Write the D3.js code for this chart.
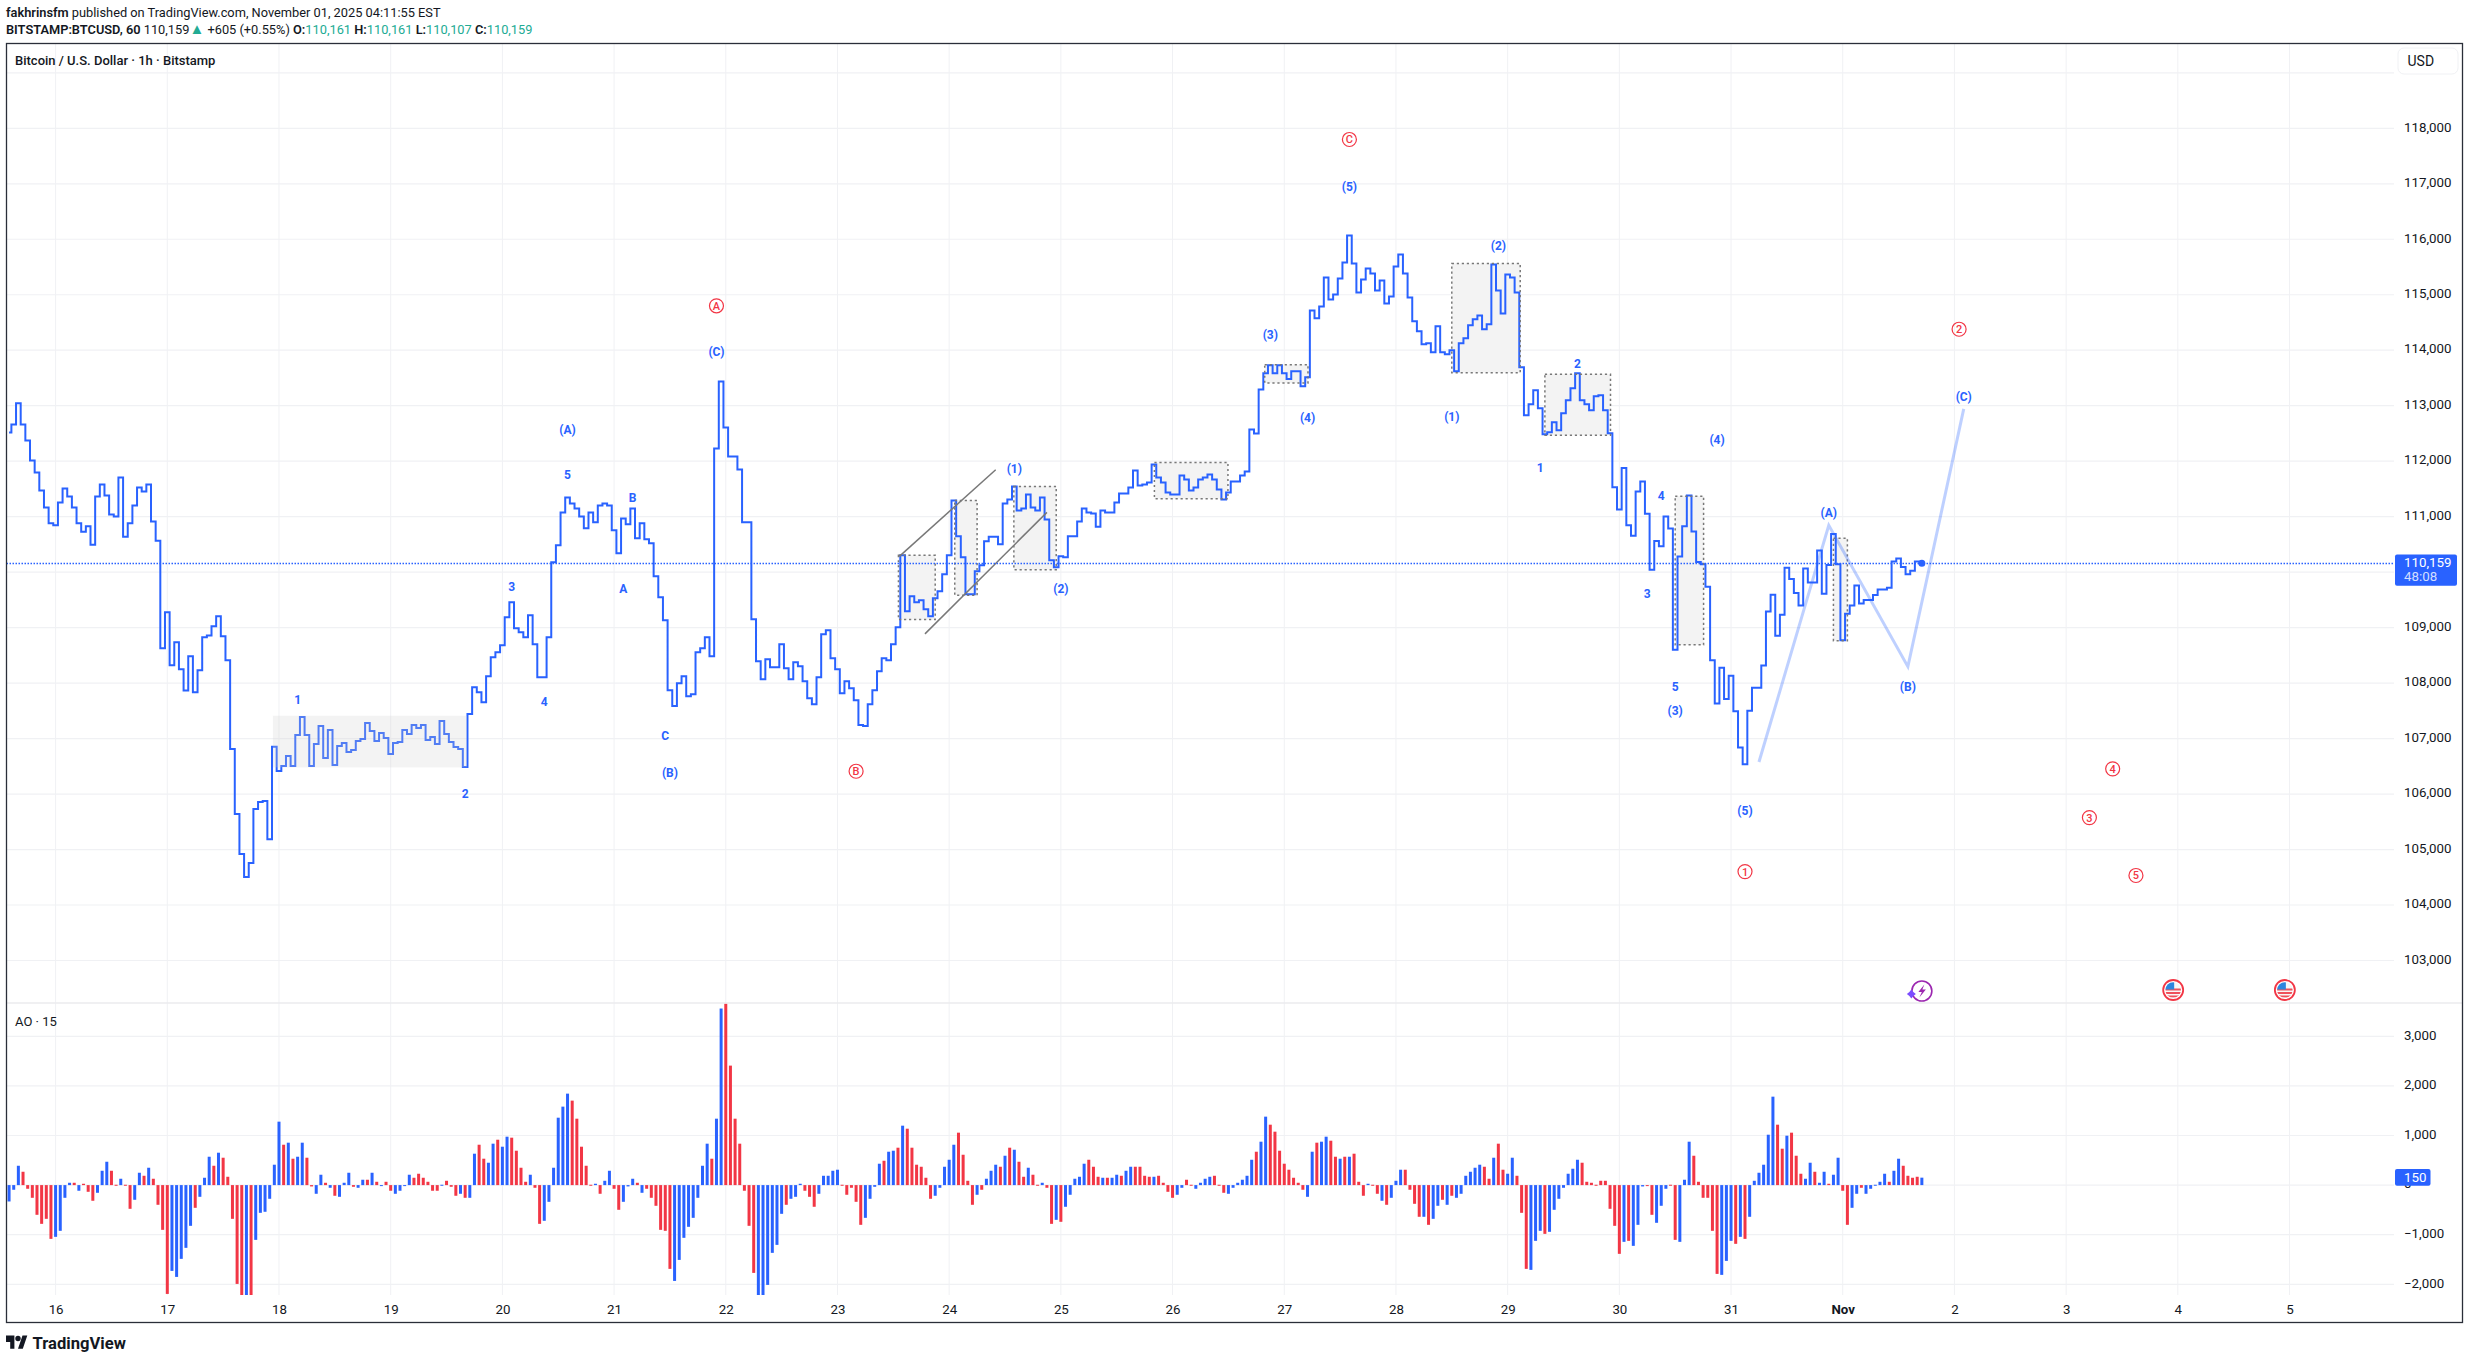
<!DOCTYPE html>
<html>
<head>
<meta charset="utf-8">
<title>BTCUSD</title>
<script src="https://cdn.jsdelivr.net/npm/d3@7"></script>
<style>
  body { margin: 0; background: #fff; }
  text { font-family: Roboto, sans-serif; fill: #131722; }
</style>
</head>
<body>
<svg id="chart" width="2469" height="1360"></svg>
<script>
// hour 0 = Oct 16 00:00, one value per hour
const firstHour = -10;

const closes = [
  112517,112661,113045,112661,112373,112013,111797,111473,111167,110879,
  110843,111257,111509,111365,111167,110879,110729,110825,110495,111365,
  111581,111383,111041,111005,111707,110639,110879,111203,111527,111455,
  111581,110915,110567,108629,109277,108323,108737,108251,107867,108485,
  107837,108233,108827,108857,109025,109205,108845,108413,106811,105641,
  104921,104507,104759,105731,105857,105875,105185,106853,106415,106505,
  106685,106505,107063,107387,107063,106505,106901,107225,106649,107153,
  106523,106865,106919,106757,106793,106955,106991,107279,107135,106955,
  107099,107009,106721,106919,106937,107153,107081,107243,107189,107243,
  106973,107027,106901,107315,107081,106937,106847,106811,106487,107441,
  107927,107837,107657,108125,108467,108557,108683,109187,109457,108989,
  108917,108827,109223,108701,108107,108107,108827,110177,110483,111077,
  111347,111239,111149,111005,110789,111077,110897,111203,111239,111203,
  110753,110339,110969,110861,111149,110609,110879,110591,110519,109925,
  109547,109133,107873,107585,107999,108125,107765,107801,108557,108629,
  108827,108485,112229,113435,112607,112085,112085,111851,110897,110897,
  109151,108395,108071,108431,108287,108287,108701,108269,108071,108377,
  108305,108035,107729,107621,108107,108881,108953,108449,108251,107819,
  108035,107909,107693,107243,107225,107621,107873,108215,108449,108413,
  108701,109007,110303,109295,109565,109457,109493,109331,109205,109529,
  109655,109961,110303,111293,110645,110267,109601,109601,110015,110123,
  110555,110639,110639,110501,111239,111311,111545,111113,111149,111401,
  111167,111113,111347,110951,110213,110087,110285,110267,110645,110645,
  110915,111149,111077,111059,110819,111113,111077,111077,111257,111419,
  111419,111527,111833,111563,111581,111617,111941,111707,111617,111437,
  111401,111401,111743,111671,111473,111527,111671,111707,111761,111671,
  111491,111311,111437,111635,111635,111743,111815,112571,112499,
  113290,113584,113728,113584,113728,113584,113482,113620,113620,113350,
  113512,114718,114574,114790,115312,114916,115006,115294,115582,116068,
  115564,115042,115276,115474,115384,115078,115258,114844,114970,115510,
  115726,115384,114952,114520,114340,114106,114124,113962,114430,113962,
  113926,113998,113620,114124,114214,114448,114556,114628,114376,114466,
  115546,115078,114664,115366,115312,115042,113692,112828,113026,113278,
  112954,112486,112522,112702,112558,112864,113098,113314,113584,113098,
  113026,112918,113170,113188,112918,112504,
  111528,111129,111875,110845,110655,111452,111635,111053,110042,110560,
  110465,111003,110788,108600,110282,110826,111382,110731,110181,110143,
  109738,108411,107633,108278,107715,108133,107494,106837,106539,107500,
  107918,107918,108316,109290,109593,108853,109233,110080,109877,109625,
  109397,110067,109814,109814,110390,109612,110130,110687,110143,108771,
  109252,109397,109757,109435,109498,109498,109587,109688,109688,109719,
  110194,110244,110092,109960,110023,110194,110159
];

const aoValues = [
  -330,-94,390,269,-74,-256,-599,-781,-680,-1084,
  -1043,-922,-256,47,47,-114,27,-135,-316,-155,
  289,471,289,7,128,7,-478,-296,249,188,
  350,128,-397,-902,-2194,-1730,-1851,-1487,-1265,-821,
  -458,-236,148,572,390,653,552,168,-680,-1992,
  -2300,-2400,-2300,-1104,-559,-538,-276,411,1279,814,
  855,532,572,855,552,-27,-175,209,47,-54,
  -215,-236,47,249,-34,-54,108,108,249,67,
  -7,67,-114,-175,-114,-7,209,148,229,148,
  67,-114,-114,7,87,-34,-215,-175,-256,-256,
  633,814,532,451,835,915,774,976,956,693,
  350,67,209,-54,-781,-720,-337,350,1359,1582,
  1844,1703,1339,774,390,7,27,-175,87,289,
  -74,-498,-337,-27,128,47,-155,-74,-256,-417,
  -902,-922,-1689,-1932,-1508,-1063,-841,-660,-256,390,
  835,532,1339,3560,3661,2409,1339,835,-114,-821,
  -1770,-2400,-2300,-2012,-1366,-1205,-579,-397,-276,-236,
  27,-114,-236,-437,-175,188,188,289,310,7,
  -195,-54,-337,-801,-660,-276,-34,431,491,673,
  693,754,1198,1137,754,411,370,148,-276,-215,
  -54,370,511,814,1057,612,87,-397,-195,-94,
  128,289,411,370,592,754,713,471,168,350,
  209,7,47,-54,-781,-700,-740,-437,-195,128,
  168,431,511,370,168,148,148,148,209,188,
  289,370,370,370,188,168,168,188,47,-135,
  -256,-195,-54,108,7,-74,47,128,168,188,
  7,-155,-175,-54,47,108,188,511,673,875,
  1380,1218,1077,693,431,310,148,47,-94,-236,
  673,855,875,976,895,572,532,572,572,633,
  67,-215,27,7,-175,-316,-397,-256,87,310,
  310,-94,-377,-639,-639,-801,-680,-417,-296,-397,
  -215,-256,-175,188,269,350,411,370,128,552,
  835,310,229,552,188,-559,-1689,-1709,-1124,-922,
  -983,-942,-498,-276,-54,229,330,511,451,67,
  47,7,87,87,-478,-821,-1386,-1144,-1124,-1225,
  -801,-27,-13,-599,-760,-417,-74,7,-1104,-1144,
  108,875,592,67,-256,-256,-922,-1790,-1810,-1528,
  -1124,-1184,-1043,-1084,-639,87,249,411,1016,1783,
  1218,734,996,1057,592,229,128,451,269,47,
  269,27,209,552,-114,-801,-458,-175,-54,-175,
  -74,7,67,229,67,289,532,390,188,148,
  168,150
];

// 1 = growing bar, 0 = falling bar
const aoRising = [
  1,1,1,0,0,0,0,0,0,0, 1,1,1,1,0,1,0,0,0,1, 1,1,0,0,1,0,0,1,1,0, 1,0,0,0,0,1,1,1,1,1,
  0,1,1,1,0,1,0,0,0,0, 0,1,0,1,1,1,1,1,1,0, 1,0,1,1,0,0,1,1,0,1, 0,1,1,1,0,1,1,0,1,0,
  1,0,0,1,1,1,1,0,0,0, 0,0,0,1,0,0,0,1,0,1, 1,0,0,1,1,0,1,1,0,0, 0,0,1,0,0,1,1,1,1,1,
  1,0,0,0,0,0,1,0,1,1, 0,0,1,1,1,0,1,0,0,0, 0,0,0,1,1,1,1,1,1,1, 1,0,1,1,0,0,0,0,0,0,
  0,1,1,1,1,1,1,0,1,1, 1,0,0,0,1,1,1,1,1,0, 0,0,0,0,1,1,1,1,0,1, 1,0,1,0,0,0,0,0,0,1,
  1,1,1,1,0,0,0,0,1,0, 1,1,1,0,1,0,1,0,0,1, 0,0,1,0,0,1,0,1,1,1, 1,1,0,0,0,1,0,1,1,0,
  1,1,0,0,0,0,1,0,0,0, 0,1,1,0,0,1,1,1,1,0, 0,0,1,1,1,1,1,1,0,1, 1,0,0,0,0,0,0,0,0,1,
  1,0,1,1,0,0,1,0,1,0, 0,0,1,0,0,1,0,1,1,1, 0,0,0,0,1,0,1,1,0,1, 0,1,1,1,1,1,1,0,0,1,
  0,0,1,1,0,0,0,1,1,1, 0,1,1,1,1,1,1,1,0,0, 0,0,0,0,0,0,0,1,0,1, 1,1,0,0,1,1,1,0,0,1,
  1,1,0,0,0,0,0,0,1,1, 1,0,1,0,1,1,1,1,1,1, 0,0,1,0,0,0,1,1,0,1, 1,0,1,1,0,0,1,1,0,1,
  1,1,1,1,0,1,1,0,0,0,0,1
];

const dayLabels = ['16','17','18','19','20','21','22','23','24','25','26','27','28','29','30','31','Nov','2','3','4','5'];
const priceTicks = [118000,117000,116000,115000,114000,113000,112000,111000,110000,109000,108000,107000,106000,105000,104000,103000];
const priceGrid = [119000].concat(priceTicks);
const aoTicks = [3000,2000,1000,-1000,-2000];

// wave counts, blue
const waveNames  = ['1','2','3','4','5','(A)','A','B','C','(B)','(C)','(1)','(2)','(3)','(4)','(5)','(1)','(2)','1','2','3','4','5','(3)','(4)','(5)','(A)','(B)','(C)'];
const waveHours  = [52,88,98,105,110,110,122,124,131,132,142,206,216,261,269,278,300,310,319,327,342,345,348,348,357,363,381,398,410];
const wavePrices = [107723,106031,109757,107687,111773,112595,109733,111359,107075,106403,114005,111893,109733,114310,112816,116974,112834,115912,111904,113776,109642,111412,107968,107532,112420,105730,111105,107962,113194];

// circled counts, red
const cycleNames  = ['A','B','C','1','2','3','4','5'];
const cycleHours  = [142,172,278,363,409,437,442,447];
const cyclePrices = [114822,106433,117820,104624,114400,105597,106476,104554];

// shaded ranges
const boxStart = [181.1,193.2,205.9,236.1,259.8,300,320,348,382];
const boxEnd   = [189,198,215,251.9,269.1,314.7,334.1,354.1,385];
const boxHigh  = [110303,111293,111545,111977,113740,115564,113566,111370,110611];
const boxLow   = [109145,109583,110045,111323,113410,113596,112468,108689,108765];
const plainBox = { start: 46.7, end: 88.4, high: 107411, low: 106481 };

// channel around the first leg
const channelHours  = [[181.3,202],[186.8,213]];
const channelPrices = [[110285,111845],[108887,111077]];

// projected path
const pathHours  = [366,381,398,410];
const pathPrices = [106577,110845,108297,112942];

const lastPrice = 110159;
const lastAo = 150;
const boltHour = 401;
const flagHours = [455,479];

const blue = '#2962ff', red = '#f23645', teal = '#22ab94';
const paneLeft = 6.5, paneRight = 2394, outerRight = 2462.5, paneTop = 43.5, mainBottom = 1003, aoBottom = 1295, paneBottom = 1322.5;

const svg = d3.select('#chart');

const x = d3.scaleLinear().domain([0, 480]).range([55.6, 55.6 + 480 * 4.654]);
const y = d3.scaleLinear().domain([103000, 118000]).range([960.5, 128.3]);
const yAo = d3.scaleLinear().domain([-2000, 3000]).range([1284.3, 1036.3]);

const dayHours = dayLabels.map((d, i) => i * 24);

// clip areas
const defs = svg.append('defs');
defs.append('clipPath').attr('id', 'aoClip').append('rect')
  .attr('x', paneLeft).attr('y', mainBottom).attr('width', paneRight - paneLeft).attr('height', aoBottom - mainBottom);
defs.append('clipPath').attr('id', 'flagClip').append('circle').attr('r', 7.8);

// grid
const grid = svg.append('g').attr('stroke', '#f0f1f4').attr('stroke-width', 1.2);
grid.selectAll('.v').data(dayHours).join('line')
  .attr('x1', d => x(d)).attr('x2', d => x(d)).attr('y1', paneTop).attr('y2', aoBottom).attr('stroke-width', 1);
grid.selectAll('.h').data(priceGrid).join('line')
  .attr('x1', paneLeft).attr('x2', paneRight).attr('y1', d => y(d)).attr('y2', d => y(d));
grid.selectAll('.a').data(aoTicks.concat([0])).join('line')
  .attr('x1', paneLeft).attr('x2', paneRight).attr('y1', d => yAo(d)).attr('y2', d => yAo(d));

// boxes under the line
svg.append('g').selectAll('rect').data(boxStart).join('rect')
  .attr('x', d => x(d))
  .attr('width', (d, i) => x(boxEnd[i]) - x(d))
  .attr('y', (d, i) => y(boxHigh[i]))
  .attr('height', (d, i) => y(boxLow[i]) - y(boxHigh[i]))
  .attr('fill', '#f3f3f3');

// price line
const line = d3.line().x((d, i) => x(firstHour + i)).y(d => y(d)).curve(d3.curveStep);
svg.append('path').datum(closes)
  .attr('d', line)
  .attr('fill', 'none').attr('stroke', blue).attr('stroke-width', 2).attr('stroke-linejoin', 'miter');

// box borders on top of the line
svg.append('g').selectAll('rect').data(boxStart).join('rect')
  .attr('x', d => x(d))
  .attr('width', (d, i) => x(boxEnd[i]) - x(d))
  .attr('y', (d, i) => y(boxHigh[i]))
  .attr('height', (d, i) => y(boxLow[i]) - y(boxHigh[i]))
  .attr('fill', 'none').attr('stroke', '#787878').attr('stroke-width', 1.5).attr('stroke-dasharray', '2.2 2.8');

svg.append('rect')
  .attr('x', x(plainBox.start)).attr('width', x(plainBox.end) - x(plainBox.start))
  .attr('y', y(plainBox.high)).attr('height', y(plainBox.low) - y(plainBox.high))
  .attr('fill', 'rgb(207,207,207)').attr('fill-opacity', 0.25);

// channel
channelHours.forEach((hours, i) => {
  svg.append('line')
    .attr('x1', x(hours[0])).attr('y1', y(channelPrices[i][0]))
    .attr('x2', x(hours[1])).attr('y2', y(channelPrices[i][1]))
    .attr('stroke', '#787878').attr('stroke-width', 1.5);
});

// projection
const pathLine = d3.line().x(d => x(d[0])).y(d => y(d[1]));
svg.append('path').datum(d3.zip(pathHours, pathPrices))
  .attr('d', pathLine)
  .attr('fill', 'none').attr('stroke', blue).attr('stroke-opacity', 0.3).attr('stroke-width', 3);

// last price line and dot
const lastY = Math.round(y(lastPrice)) + 0.5;
svg.append('line')
  .attr('x1', paneLeft).attr('x2', paneRight).attr('y1', lastY).attr('y2', lastY)
  .attr('stroke', blue).attr('stroke-width', 1.4).attr('stroke-dasharray', '1.5 1.5');
svg.append('circle').attr('cx', x(firstHour + closes.length - 1)).attr('cy', y(lastPrice)).attr('r', 3.5).attr('fill', blue);

// wave labels
svg.append('g').selectAll('text').data(waveNames).join('text')
  .attr('x', (d, i) => x(waveHours[i]))
  .attr('y', (d, i) => y(wavePrices[i]) + 1.5)
  .attr('text-anchor', 'middle').attr('dy', '0.35em')
  .style('fill', blue).style('font-size', '12px').style('font-weight', 700)
  .text(d => d);

const cycle = svg.append('g').selectAll('g').data(cycleNames).join('g')
  .attr('transform', (d, i) => `translate(${x(cycleHours[i])},${y(cyclePrices[i]) + 1.2})`);
cycle.append('circle').attr('r', 7).attr('fill', 'none').attr('stroke', red).attr('stroke-width', 1.2);
cycle.append('text').attr('text-anchor', 'middle').attr('dy', '0.36em')
  .style('fill', red).style('font-size', '11px').style('font-weight', 500)
  .text(d => d);

// event icons along the bottom of the main pane
const bolt = svg.append('g').attr('transform', `translate(${x(boltHour)},991)`);
bolt.append('circle').attr('r', 10).attr('fill', 'none').attr('stroke', '#9c27b0').attr('stroke-width', 1.6);
bolt.append('path').attr('d', 'M2.5-6.5L-3.5 1H0L-2.5 6.5L4-1.5H0.5Z').attr('fill', '#9c27b0');
bolt.append('path').attr('d', 'M-10.5-1.5L-8.5 1L-6 3L-8.5 5L-10.5 7.5L-12.5 5L-15 3L-12.5 1Z').attr('fill', '#7c4dff');

const flag = svg.append('g').selectAll('g').data(flagHours).join('g')
  .attr('transform', d => `translate(${x(d)},990)`);
flag.append('circle').attr('r', 10).attr('fill', '#fff').attr('stroke', red).attr('stroke-width', 1.8);
const flagInner = flag.append('g').attr('clip-path', 'url(#flagClip)');
flagInner.append('rect').attr('x', -8).attr('y', -8).attr('width', 16).attr('height', 16).attr('fill', '#f7f7f7');
flagInner.selectAll('.stripe').data([-1.5, 2, 5.5]).join('rect')
  .attr('x', -8).attr('y', d => d).attr('width', 16).attr('height', 2).attr('fill', '#f0505a');
flagInner.append('rect').attr('x', -8).attr('y', -8).attr('width', 9).attr('height', 7.5).attr('fill', '#2e86de');

// AO bars
svg.append('g').attr('clip-path', 'url(#aoClip)').selectAll('rect').data(aoValues).join('rect')
  .attr('x', (d, i) => x(firstHour + i) - 1.5)
  .attr('width', 3)
  .attr('y', d => Math.min(yAo(d), yAo(0)))
  .attr('height', d => Math.max(1, Math.abs(yAo(d) - yAo(0))))
  .attr('fill', (d, i) => aoRising[i] ? blue : red);

// pane frame
svg.append('line').attr('x1', paneLeft).attr('x2', outerRight).attr('y1', mainBottom).attr('y2', mainBottom)
  .attr('stroke', '#ebebee').attr('stroke-width', 1.3);
svg.append('rect').attr('x', paneLeft).attr('y', paneTop).attr('width', outerRight - paneLeft).attr('height', paneBottom - paneTop)
  .attr('fill', 'none').attr('stroke', '#2a2e39').attr('stroke-width', 1.3);

// axes
const priceAxis = d3.axisRight(y).tickValues(priceTicks).tickFormat(d3.format(',')).tickSize(0).tickPadding(10);
const aoFormat = d => d3.format(',')(d).replace('-', '−');
const aoAxis = d3.axisRight(yAo).tickValues(aoTicks.concat([0])).tickFormat(aoFormat).tickSize(0).tickPadding(10);
const timeAxis = d3.axisBottom(x).tickValues(dayHours).tickFormat((d, i) => dayLabels[i]).tickSize(0).tickPadding(0);

[
  svg.append('g').attr('transform', `translate(${paneRight},-1.5)`).call(priceAxis),
  svg.append('g').attr('transform', `translate(${paneRight},-1.5)`).call(aoAxis),
  svg.append('g').attr('transform', 'translate(0,1305)').call(timeAxis)
].forEach(g => {
  g.select('.domain').remove();
  g.selectAll('text').style('font-size', '13.3px').style('font-family', 'Roboto, sans-serif').style('fill', '#131722');
});
svg.selectAll('text').filter(function () { return d3.select(this).text() === 'Nov'; }).style('font-weight', 700);

// axis value tags
svg.append('rect').attr('x', 2395).attr('y', 554.6).attr('width', 62).attr('height', 31.2).attr('rx', 2).attr('fill', blue);
svg.append('text').attr('x', 2404).attr('y', 567.3).text(d3.format(',')(lastPrice))
  .style('fill', '#fff').style('font-size', '13.3px');
svg.append('text').attr('x', 2404).attr('y', 581.3).text('48:08')
  .style('fill', '#fff').style('fill-opacity', 0.8).style('font-size', '13.3px');
svg.append('rect').attr('x', 2395).attr('y', 1169).attr('width', 35.5).attr('height', 16.7).attr('rx', 2).attr('fill', blue);
svg.append('text').attr('x', 2404).attr('y', 1182).text(lastAo)
  .style('fill', '#fff').style('font-size', '13.3px');

// currency button
svg.append('rect').attr('x', 2398).attr('y', 48).attr('width', 60).attr('height', 26).attr('rx', 6)
  .attr('fill', '#fff').attr('stroke', '#f0f1f4');
svg.append('text').attr('x', 2407.5).attr('y', 66).text('USD').style('font-size', '14px');

// pane titles
svg.append('text').attr('x', 15).attr('y', 65).text('Bitcoin / U.S. Dollar · 1h · Bitstamp')
  .style('font-size', '13px').style('font-weight', 500);
svg.append('text').attr('x', 15).attr('y', 1026).text('AO · 15').style('font-size', '13px');

// header
const head1 = svg.append('text').attr('x', 6).attr('y', 17).style('font-size', '12.8px');
head1.append('tspan').text('fakhrinsfm').style('font-weight', 600);
head1.append('tspan').text(' published on TradingView.com, November 01, 2025 04:11:55 EST');

const head2 = svg.append('text').attr('x', 6).attr('y', 34).style('font-size', '12.8px');
head2.append('tspan').text('BITSTAMP:BTCUSD, 60').style('font-weight', 600);
head2.append('tspan').text(' 110,159');
head2.append('tspan').text('▲').style('fill', teal).style('font-size', '15px');
head2.append('tspan').text(' +605 (+0.55%) ');
[['O:', '110,161'], ['H:', '110,161'], ['L:', '110,107'], ['C:', '110,159']].forEach(p => {
  head2.append('tspan').text(p[0]).style('font-weight', 600);
  head2.append('tspan').text(p[1] + ' ').style('fill', teal);
});

// logo
const logo = svg.append('g').attr('transform', 'translate(6,1335.5) scale(0.6)').attr('fill', '#131722');
logo.append('path').attr('d', 'M14 22H7V11H0V0h14zM28 22h-8L27.5 0h8z');
logo.append('circle').attr('cx', 20).attr('cy', 5).attr('r', 4.5);
svg.append('text').attr('x', 32.5).attr('y', 1348.5).text('TradingView')
  .style('font-size', '16.6px').style('font-weight', 700);
</script>
</body>
</html>
